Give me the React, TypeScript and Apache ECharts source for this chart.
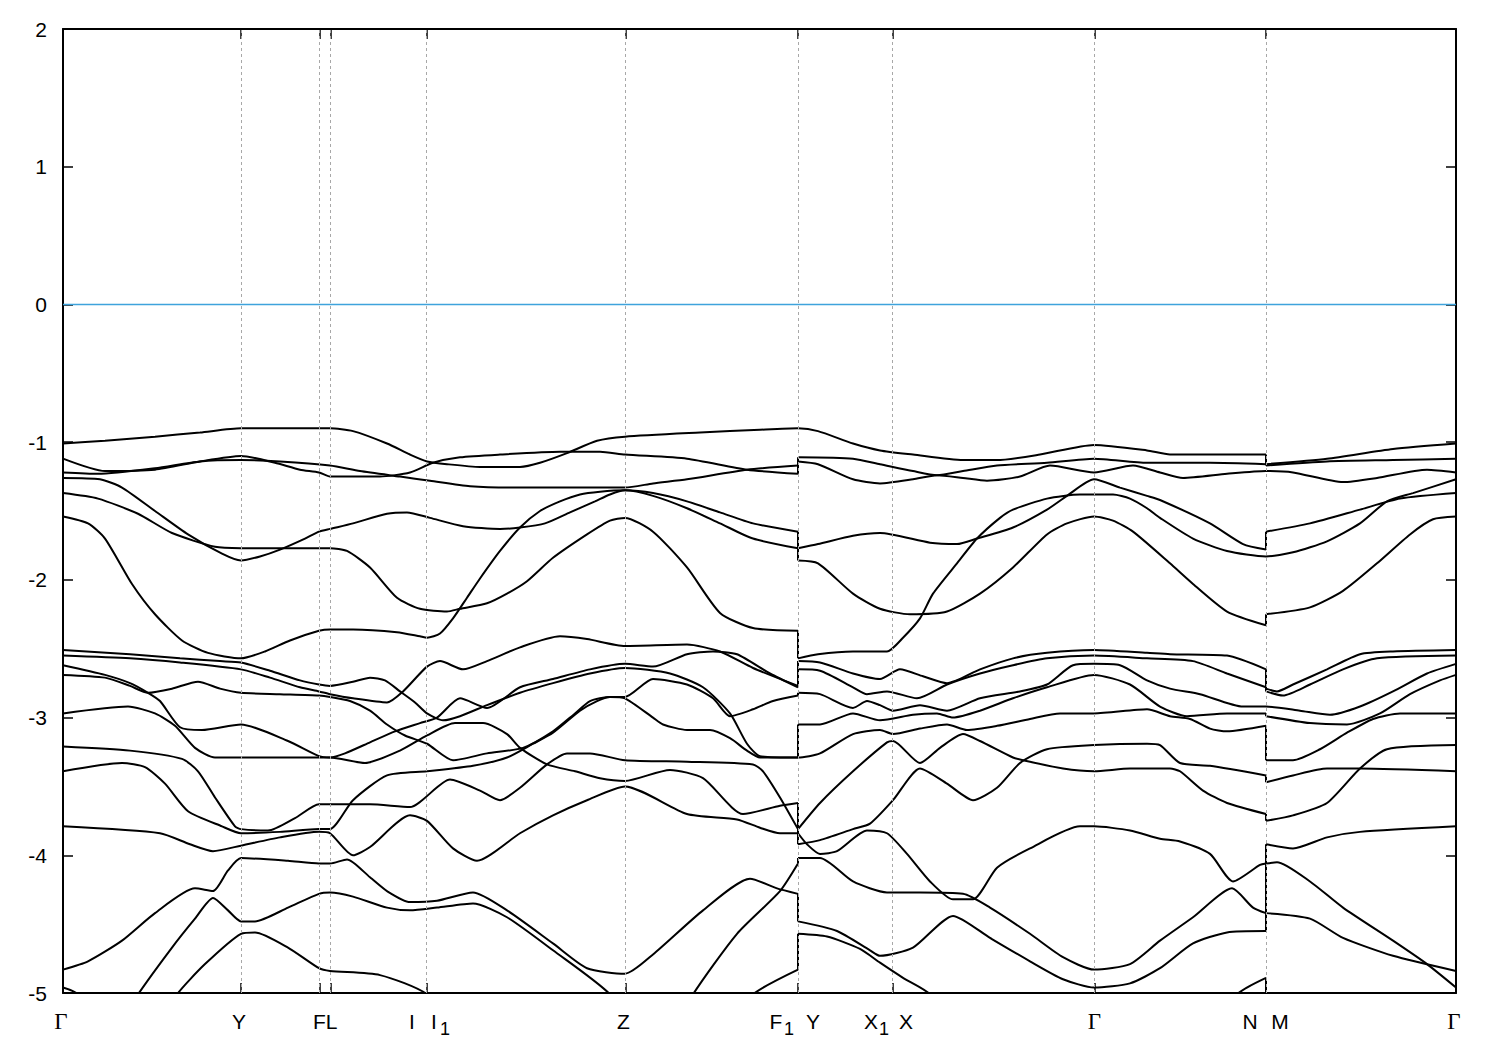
import React, { useEffect, useRef } from "react";
import * as echarts from "echarts";

// High-symmetry points along the k-path (path distance units)
const kTicks = [0, 178, 256.3, 267.5, 363.5, 562.3, 735, 829.5, 1031.5, 1203, 1393];
const kTickLabels = ["Γ", "Y", "F", "L", "I|I_1", "Z", "F_1|Y", "X_1|X", "Γ", "N|M", "Γ"];
const fermiLevel = 0;

// Bands: [k, E (eV)]
const bandA = [[0,-1.01],[42,-0.99],[92,-0.96],[137,-0.93],[178,-0.90],[227,-0.90],[267,-0.90],[290,-0.92],[324,-1.01],[347,-1.09],[364,-1.14],[384,-1.16],[417,-1.18],[457,-1.18],[477,-1.15],[504,-1.08],[534,-0.99],[562,-0.96],[637,-0.93],[697,-0.91],[735,-0.90],[755,-0.92],[790,-1.01],[817,-1.06],[850,-1.09],[900,-1.13],[934,-1.13],[977,-1.09],[1031,-1.02],[1084,-1.06],[1107,-1.09],[1167,-1.09],[1203,-1.09],[1203,-1.16],[1264,-1.12],[1330,-1.05],[1393,-1.01]];
const bandB = [[0,-1.12],[42,-1.21],[92,-1.20],[137,-1.14],[178,-1.10],[212,-1.15],[237,-1.20],[256,-1.22],[267,-1.25],[317,-1.25],[347,-1.22],[370,-1.15],[397,-1.11],[437,-1.09],[497,-1.07],[537,-1.07],[562,-1.09],[624,-1.12],[684,-1.20],[735,-1.23],[735,-1.14],[755,-1.16],[790,-1.27],[817,-1.30],[850,-1.27],[874,-1.24],[900,-1.26],[924,-1.28],[957,-1.25],[987,-1.17],[1031,-1.22],[1070,-1.17],[1097,-1.22],[1120,-1.26],[1164,-1.23],[1203,-1.21],[1230,-1.22],[1280,-1.29],[1314,-1.26],[1364,-1.20],[1393,-1.22]];
const bandC = [[0,-1.22],[35,-1.23],[92,-1.19],[137,-1.14],[178,-1.13],[217,-1.14],[267,-1.17],[297,-1.21],[337,-1.25],[367,-1.28],[407,-1.32],[447,-1.33],[507,-1.33],[562,-1.33],[590,-1.30],[624,-1.27],[684,-1.20],[735,-1.17],[735,-1.11],[790,-1.12],[817,-1.16],[850,-1.21],[874,-1.24],[900,-1.21],[934,-1.17],[984,-1.15],[1031,-1.12],[1084,-1.15],[1147,-1.15],[1203,-1.16],[1203,-1.17],[1264,-1.14],[1330,-1.13],[1393,-1.12]];
const bandD = [[0,-1.26],[37,-1.27],[59,-1.33],[92,-1.50],[125,-1.67],[159,-1.81],[178,-1.86],[197,-1.83],[217,-1.78],[242,-1.70],[256,-1.65],[267,-1.63],[290,-1.59],[324,-1.52],[344,-1.51],[367,-1.55],[400,-1.61],[437,-1.63],[457,-1.62],[482,-1.59],[507,-1.51],[532,-1.43],[547,-1.38],[562,-1.35],[590,-1.37],[624,-1.43],[657,-1.51],[690,-1.59],[735,-1.65],[735,-1.77],[755,-1.74],[790,-1.68],[817,-1.66],[867,-1.73],[894,-1.74],[914,-1.70],[950,-1.62],[984,-1.49],[1004,-1.39],[1031,-1.27],[1057,-1.33],[1084,-1.39],[1097,-1.42],[1147,-1.59],[1180,-1.74],[1203,-1.78],[1203,-1.65],[1247,-1.59],[1297,-1.49],[1337,-1.41],[1393,-1.37]];
const bandE = [[0,-1.37],[35,-1.41],[75,-1.52],[109,-1.66],[152,-1.76],[178,-1.77],[207,-1.77],[267,-1.77],[284,-1.79],[307,-1.91],[334,-2.13],[357,-2.21],[384,-2.23],[397,-2.21],[424,-2.17],[444,-2.10],[464,-2.01],[490,-1.84],[524,-1.67],[547,-1.57],[562,-1.55],[590,-1.65],[624,-1.91],[657,-2.24],[690,-2.35],[735,-2.37],[735,-2.57],[755,-2.54],[790,-2.52],[824,-2.52],[840,-2.42],[857,-2.28],[870,-2.10],[894,-1.88],[914,-1.70],[937,-1.55],[950,-1.49],[984,-1.41],[1017,-1.38],[1031,-1.38],[1050,-1.38],[1067,-1.41],[1084,-1.48],[1097,-1.55],[1130,-1.70],[1164,-1.79],[1203,-1.83],[1230,-1.80],[1264,-1.72],[1297,-1.59],[1324,-1.43],[1350,-1.37],[1393,-1.27]];
const bandF = [[0,-1.54],[25,-1.59],[42,-1.70],[69,-2.03],[92,-2.25],[119,-2.44],[145,-2.53],[178,-2.57],[202,-2.52],[227,-2.44],[256,-2.37],[267,-2.36],[290,-2.36],[334,-2.38],[357,-2.41],[364,-2.42],[377,-2.39],[390,-2.28],[404,-2.13],[417,-1.99],[437,-1.79],[457,-1.62],[477,-1.50],[497,-1.43],[517,-1.38],[537,-1.36],[562,-1.35],[590,-1.39],[624,-1.48],[657,-1.59],[690,-1.70],[735,-1.77],[735,-1.86],[755,-1.88],[790,-2.10],[817,-2.21],[847,-2.25],[884,-2.23],[917,-2.10],[950,-1.91],[984,-1.67],[1004,-1.59],[1031,-1.54],[1050,-1.57],[1070,-1.65],[1107,-1.88],[1130,-2.03],[1164,-2.23],[1203,-2.33],[1203,-2.25],[1247,-2.20],[1280,-2.08],[1314,-1.88],[1347,-1.67],[1370,-1.56],[1393,-1.54]];
const bandG = [[0,-2.51],[67,-2.54],[117,-2.57],[157,-2.59],[178,-2.60],[207,-2.66],[237,-2.73],[256,-2.76],[267,-2.77],[290,-2.74],[307,-2.71],[322,-2.73],[337,-2.81],[352,-2.89],[364,-2.97],[380,-3.02],[397,-2.99],[424,-2.91],[457,-2.82],[490,-2.75],[527,-2.68],[562,-2.64],[607,-2.68],[640,-2.78],[667,-2.97],[684,-3.19],[697,-3.28],[735,-3.29],[735,-3.05],[757,-3.05],[790,-2.97],[817,-3.02],[850,-2.98],[874,-2.97],[890,-3.00],[917,-2.95],[950,-2.86],[984,-2.78],[1031,-2.69],[1067,-2.76],[1097,-2.92],[1124,-2.99],[1164,-2.97],[1203,-2.97],[1203,-2.99],[1247,-3.04],[1284,-3.05],[1317,-2.97],[1347,-2.83],[1377,-2.73],[1393,-2.69]];
const bandH = [[0,-2.55],[67,-2.57],[117,-2.60],[178,-2.65],[207,-2.71],[237,-2.78],[256,-2.81],[267,-2.83],[290,-2.86],[324,-2.89],[340,-2.81],[364,-2.63],[377,-2.59],[400,-2.65],[424,-2.59],[457,-2.49],[497,-2.41],[524,-2.43],[562,-2.48],[624,-2.47],[657,-2.52],[690,-2.64],[735,-2.77],[735,-2.59],[757,-2.60],[790,-2.68],[817,-2.72],[837,-2.65],[860,-2.70],[884,-2.75],[917,-2.65],[950,-2.57],[984,-2.53],[1031,-2.51],[1084,-2.53],[1107,-2.54],[1164,-2.55],[1203,-2.65],[1203,-2.79],[1214,-2.81],[1230,-2.76],[1264,-2.65],[1297,-2.54],[1330,-2.52],[1393,-2.51]];
const bandI = [[0,-2.62],[42,-2.69],[67,-2.75],[85,-2.82],[97,-2.88],[117,-3.07],[139,-3.09],[178,-3.05],[225,-3.17],[256,-3.28],[267,-3.29],[282,-3.26],[307,-3.18],[332,-3.10],[357,-3.04],[374,-3.00],[397,-2.86],[424,-2.93],[457,-2.78],[490,-2.72],[527,-2.65],[562,-2.61],[590,-2.63],[624,-2.54],[650,-2.52],[674,-2.54],[707,-2.68],[735,-2.78],[735,-2.65],[757,-2.66],[790,-2.78],[804,-2.83],[824,-2.81],[854,-2.86],[884,-2.76],[917,-2.68],[950,-2.62],[984,-2.57],[1031,-2.55],[1084,-2.57],[1130,-2.59],[1164,-2.68],[1203,-2.78],[1203,-2.81],[1220,-2.84],[1247,-2.76],[1280,-2.65],[1314,-2.57],[1393,-2.55]];
const bandJ = [[0,-2.69],[42,-2.71],[67,-2.77],[85,-2.82],[109,-2.79],[135,-2.74],[157,-2.79],[178,-2.82],[217,-2.83],[256,-2.84],[267,-2.85],[287,-2.88],[307,-2.95],[324,-3.05],[342,-3.13],[364,-3.19],[390,-3.31],[424,-3.26],[460,-3.22],[490,-3.10],[512,-2.97],[527,-2.88],[547,-2.85],[562,-2.86],[590,-3.00],[600,-3.05],[624,-3.09],[647,-3.09],[667,-3.15],[684,-3.24],[697,-3.29],[735,-3.29],[757,-3.26],[790,-3.12],[817,-3.09],[830,-3.12],[857,-3.08],[884,-3.05],[904,-3.09],[934,-3.06],[967,-3.01],[997,-2.97],[1031,-2.97],[1084,-2.94],[1107,-2.99],[1127,-3.01],[1147,-3.08],[1164,-3.10],[1203,-3.06],[1203,-3.31],[1230,-3.31],[1257,-3.23],[1284,-3.11],[1310,-3.01],[1337,-2.97],[1393,-2.97]];
const bandK = [[0,-2.97],[65,-2.92],[92,-2.97],[112,-3.06],[132,-3.22],[152,-3.29],[178,-3.29],[267,-3.29],[302,-3.33],[337,-3.24],[364,-3.13],[392,-3.04],[420,-3.04],[444,-3.12],[457,-3.22],[484,-3.34],[512,-3.39],[537,-3.44],[562,-3.46],[607,-3.38],[640,-3.44],[680,-3.70],[717,-3.64],[735,-3.62],[735,-3.81],[757,-3.62],[790,-3.39],[824,-3.18],[830,-3.17],[857,-3.33],[877,-3.22],[900,-3.12],[917,-3.17],[950,-3.29],[960,-3.31],[1000,-3.37],[1031,-3.39],[1067,-3.37],[1107,-3.37],[1117,-3.39],[1140,-3.53],[1164,-3.62],[1203,-3.70],[1203,-3.75],[1230,-3.71],[1264,-3.62],[1297,-3.37],[1324,-3.23],[1393,-3.20]];
const bandL = [[0,-3.21],[67,-3.24],[119,-3.30],[135,-3.39],[152,-3.58],[172,-3.79],[178,-3.81],[205,-3.82],[232,-3.73],[256,-3.63],[267,-3.63],[307,-3.63],[347,-3.65],[387,-3.45],[417,-3.53],[437,-3.60],[457,-3.51],[484,-3.34],[504,-3.26],[527,-3.26],[562,-3.31],[624,-3.32],[690,-3.34],[700,-3.39],[717,-3.58],[735,-3.81],[735,-3.84],[744,-3.92],[757,-3.99],[774,-3.97],[804,-3.82],[824,-3.84],[844,-3.99],[867,-4.19],[890,-4.32],[910,-4.32],[934,-4.09],[967,-3.95],[1017,-3.79],[1031,-3.79],[1067,-3.82],[1097,-3.88],[1117,-3.90],[1147,-3.99],[1170,-4.19],[1197,-4.07],[1203,-4.06],[1203,-3.92],[1230,-3.95],[1264,-3.87],[1297,-3.83],[1393,-3.79]];
const bandM = [[0,-3.39],[59,-3.33],[82,-3.36],[102,-3.48],[125,-3.68],[159,-3.79],[178,-3.84],[217,-3.83],[256,-3.81],[267,-3.81],[290,-3.60],[324,-3.42],[364,-3.39],[410,-3.35],[444,-3.29],[470,-3.19],[490,-3.11],[517,-2.95],[534,-2.88],[547,-2.85],[562,-2.85],[590,-2.72],[624,-2.76],[650,-2.86],[667,-2.99],[690,-2.94],[710,-2.88],[735,-2.84],[735,-2.82],[757,-2.83],[790,-2.93],[804,-2.88],[817,-2.91],[830,-2.95],[857,-2.91],[884,-2.95],[917,-2.86],[957,-2.81],[984,-2.76],[1010,-2.62],[1031,-2.61],[1057,-2.62],[1084,-2.73],[1107,-2.79],[1137,-2.83],[1180,-2.92],[1203,-2.92],[1237,-2.95],[1267,-2.98],[1297,-2.92],[1330,-2.81],[1364,-2.68],[1393,-2.61]];
const bandN = [[0,-3.79],[97,-3.84],[127,-3.92],[150,-3.97],[178,-3.93],[217,-3.87],[256,-3.83],[267,-3.84],[290,-4.00],[307,-3.94],[347,-3.71],[364,-3.75],[390,-3.95],[414,-4.04],[457,-3.84],[490,-3.71],[524,-3.60],[562,-3.50],[624,-3.70],[674,-3.74],[697,-3.80],[717,-3.84],[735,-3.84],[735,-3.92],[757,-3.89],[790,-3.81],[807,-3.77],[830,-3.60],[857,-3.37],[884,-3.48],[910,-3.60],[934,-3.51],[957,-3.33],[984,-3.23],[1031,-3.20],[1084,-3.19],[1097,-3.20],[1117,-3.33],[1147,-3.35],[1203,-3.42],[1203,-3.47],[1230,-3.42],[1264,-3.37],[1297,-3.37],[1393,-3.39]];
const bandO = [[0,-4.83],[25,-4.77],[59,-4.62],[92,-4.42],[132,-4.24],[150,-4.26],[165,-4.11],[178,-4.02],[225,-4.04],[256,-4.06],[267,-4.06],[284,-4.03],[307,-4.16],[324,-4.26],[347,-4.34],[374,-4.33],[410,-4.27],[444,-4.40],[490,-4.64],[524,-4.82],[562,-4.86],[590,-4.72],[640,-4.40],[687,-4.17],[714,-4.24],[735,-4.28],[735,-4.48],[774,-4.55],[807,-4.69],[817,-4.73],[850,-4.67],[890,-4.44],[927,-4.60],[967,-4.77],[1000,-4.90],[1031,-4.96],[1067,-4.93],[1097,-4.82],[1130,-4.64],[1164,-4.56],[1203,-4.55],[1203,-4.42],[1247,-4.46],[1280,-4.60],[1330,-4.73],[1393,-4.84]];
const bandP = [[0,-4.96],[15,-5.01],[35,-5.3]];
const bandQ = [[50,-5.3],[75,-5.01],[109,-4.67],[132,-4.46],[150,-4.31],[165,-4.40],[178,-4.48],[192,-4.48],[225,-4.38],[256,-4.28],[267,-4.27],[290,-4.30],[324,-4.38],[347,-4.40],[374,-4.38],[410,-4.35],[444,-4.45],[490,-4.69],[547,-5.01],[570,-5.3],[610,-5.3],[630,-5.01],[674,-4.57],[717,-4.26],[735,-4.06],[735,-4.02],[757,-4.02],[790,-4.19],[824,-4.27],[857,-4.27],[900,-4.28],[927,-4.38],[967,-4.57],[1000,-4.74],[1031,-4.83],[1067,-4.79],[1097,-4.62],[1130,-4.45],[1169,-4.24],[1190,-4.38],[1203,-4.42],[1203,-4.06],[1214,-4.05],[1247,-4.19],[1280,-4.38],[1330,-4.62],[1364,-4.79],[1393,-4.96]];
const bandR = [[90,-5.3],[114,-5.01],[142,-4.79],[178,-4.57],[192,-4.56],[225,-4.67],[256,-4.82],[267,-4.84],[317,-4.87],[364,-5.01],[390,-5.3],[660,-5.3],[690,-5.01],[735,-4.83],[735,-4.57],[764,-4.59],[797,-4.68],[817,-4.78],[840,-4.89],[867,-5.01],[890,-5.3],[1150,-5.3],[1174,-5.01],[1203,-4.89],[1203,-5.02],[1227,-5.3]];

const bands = [bandA, bandB, bandC, bandD, bandE, bandF, bandG, bandH, bandI, bandJ, bandK, bandL, bandM, bandN, bandO, bandP, bandQ, bandR];

// layout: horizontal pixel offsets of each glyph of each tick label
const glyphOffsets: number[][] = [[-2], [-2], [0], [1], [-14.5, 7.5, 18.5], [-2], [-22, -9, 15], [-21.5, -8.5, 13.5], [0], [-16, 14], [-2]];

function tokens(label: string) {
  const out: { t: string; sub: boolean }[] = [];
  label.split("|").forEach((part) => {
    const [main, sub] = part.split("_");
    out.push({ t: main, sub: false });
    if (sub) out.push({ t: sub, sub: true });
  });
  return out;
}

// split a band at discontinuities (repeated k) into smooth pieces + vertical connectors
function splitBand(b: number[][]) {
  const pieces: number[][][] = [];
  const joins: number[][][] = [];
  let cur: number[][] = [b[0]];
  for (let i = 1; i < b.length; i++) {
    if (b[i][0] === b[i - 1][0]) {
      pieces.push(cur);
      joins.push([b[i - 1], b[i]]);
      cur = [b[i]];
    } else cur.push(b[i]);
  }
  pieces.push(cur);
  return { pieces, joins };
}

export default function App() {
  const ref = useRef<HTMLDivElement>(null);
  useEffect(() => {
    document.body.style.margin = "0";
    const chart = echarts.init(ref.current!, null, { renderer: "svg" });
    const kMax = kTicks[kTicks.length - 1];
    const axisLine = { show: true, onZero: false, lineStyle: { color: "#000", width: 2 } };
    const tickStyle = { color: "#000", width: 1.5 };
    const bandStyle = { color: "#000", width: 2 };
    const bandSeries: any[] = [];
    bands.forEach((b) => {
      const { pieces, joins } = splitBand(b);
      pieces.forEach((p) =>
        bandSeries.push({ type: "line", data: p, showSymbol: false, silent: true, z: 3, clip: true,
          smooth: 0.22, lineStyle: bandStyle })
      );
      joins.forEach((j) =>
        bandSeries.push({ type: "line", data: j, showSymbol: false, silent: true, z: 3, clip: true,
          lineStyle: bandStyle })
      );
    });
    const option: any = {
      animation: false,
      backgroundColor: "#fff",
      grid: { left: 63, top: 29, right: 44, bottom: 57, containLabel: false },
      xAxis: [
        { type: "value", min: 0, max: kMax, position: "bottom", axisLine, splitLine: { show: false },
          axisTick: { show: true, inside: true, length: 10, customValues: kTicks, lineStyle: tickStyle },
          axisLabel: { show: false } },
        { type: "value", min: 0, max: kMax, position: "top", axisLine, splitLine: { show: false },
          axisTick: { show: true, inside: true, length: 10, customValues: kTicks, lineStyle: tickStyle },
          axisLabel: { show: false } },
      ],
      yAxis: [
        { type: "value", min: -5, max: 2, interval: 1, position: "left", axisLine, splitLine: { show: false },
          axisTick: { show: true, inside: true, length: 10, lineStyle: tickStyle },
          axisLabel: { color: "#000", fontSize: 21, fontFamily: "Liberation Sans", margin: 16 } },
        { type: "value", min: -5, max: 2, interval: 1, position: "right", axisLine, splitLine: { show: false },
          axisTick: { show: true, inside: true, length: 10, lineStyle: tickStyle },
          axisLabel: { show: false } },
      ],
      series: [
        {
          type: "line", data: [[0, fermiLevel], [kMax, fermiLevel]], showSymbol: false, silent: true, z: 2,
          lineStyle: { color: "#3fa3dc", width: 1.5 },
          markLine: {
            silent: true, symbol: ["none", "none"], label: { show: false },
            lineStyle: { color: "#a8a8a8", type: [3, 3], width: 1 },
            data: kTicks.slice(1, -1).map((k) => ({ xAxis: k })),
          },
        },
        ...bandSeries,
      ],
    };
    chart.setOption(option);
    const yBase = chart.convertToPixel({ yAxisIndex: 0 }, -5) as number;
    const graphic: any[] = [];
    kTicks.forEach((k, i) => {
      const x = chart.convertToPixel({ xAxisIndex: 0 }, k) as number;
      tokens(kTickLabels[i]).forEach((tok, j) => {
        const serif = tok.t === "Γ";
        graphic.push({
          type: "text", silent: true,
          x: x + (glyphOffsets[i][j] ?? 0),
          y: yBase + (tok.sub ? 36 : 28),
          style: {
            text: tok.t, fill: "#000",
            font: `${tok.sub ? 18 : serif ? 23 : 21}px ${serif ? '"Liberation Serif"' : '"Liberation Sans"'}`,
            align: "center", verticalAlign: "middle",
          },
        });
      });
    });
    chart.setOption({ graphic });
    return () => chart.dispose();
  }, []);
  return <div ref={ref} style={{ width: 1500, height: 1050 }} />;
}
